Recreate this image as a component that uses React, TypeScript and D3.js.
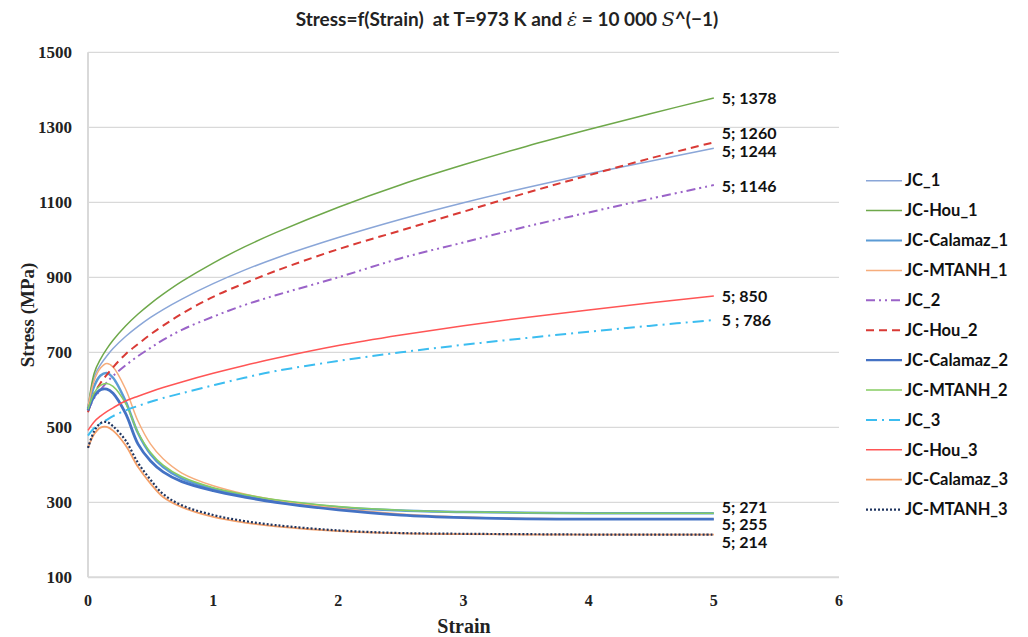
import React, { useEffect, useRef } from 'react';
import * as d3 from 'd3';

// strain sampling points (shared by every series)
const strain = [0, 0.05, 0.1, 0.15, 0.2, 0.3, 0.4, 0.5, 0.6, 0.75, 1, 1.25, 1.5, 2, 2.5, 3, 3.5, 4, 4.5, 5];

// stress values (MPa)
const jc1 = [550, 635, 667, 690, 710, 742, 769, 793, 814, 842, 883, 919, 951, 1006, 1055, 1099, 1139, 1176, 1210, 1244];
const jcHou1 = [550, 645, 682, 709, 732, 770, 802, 830, 855, 889, 938, 981, 1019, 1087, 1147, 1200, 1249, 1294, 1337, 1378];
const jcCalamaz1 = [550, 610, 638, 645, 632, 570, 484, 428, 394, 363, 336, 318, 304, 287, 278, 274, 272, 271, 271, 271];
const jcMtanh1 = [555, 625, 658, 670, 661, 602, 516, 455, 416, 378, 344, 322, 306, 284, 269, 261, 257, 256, 255, 255];
const jc2 = [545, 578, 600, 620, 637, 665, 690, 712, 733, 760, 795, 826, 852, 900, 951, 993, 1035, 1073, 1110, 1146];
const jcHou2 = [540, 590, 618, 640, 660, 695, 722, 748, 771, 803, 848, 884, 917, 975, 1025, 1075, 1125, 1172, 1218, 1260];
const jcCalamaz2 = [545, 583, 600, 602, 591, 537, 455, 410, 381, 355, 331, 314, 300, 280, 266, 259, 256, 255, 255, 255];
const jcMtanh2 = [548, 592, 612, 617, 609, 564, 486, 433, 399, 368, 339, 321, 307, 289, 279, 274, 272, 271, 271, 271];
const jc3 = [478, 498, 510, 520, 530, 545, 557, 568, 578, 591, 612, 632, 650, 677, 700, 720, 738, 755, 771, 786];
const jcHou3 = [492, 515, 530, 542, 552, 570, 583, 595, 606, 621, 644, 665, 684, 718, 746, 771, 793, 813, 832, 850];
const jcCalamaz3 = [445, 482, 499, 501, 491, 452, 394, 350, 314, 287, 261, 246, 236, 223, 217, 215, 214, 214, 214, 214];
const jcMtanh3 = [445, 490, 511, 514, 503, 465, 405, 360, 322, 292, 266, 250, 239, 225, 218, 216, 215, 214, 214, 214];

const seriesNames = [
  'JC_1', 'JC-Hou_1', 'JC-Calamaz_1', 'JC-MTANH_1',
  'JC_2', 'JC-Hou_2', 'JC-Calamaz_2', 'JC-MTANH_2',
  'JC_3', 'JC-Hou_3', 'JC-Calamaz_3', 'JC-MTANH_3',
];
const seriesValues = [
  jc1, jcHou1, jcCalamaz1, jcMtanh1,
  jc2, jcHou2, jcCalamaz2, jcMtanh2,
  jc3, jcHou3, jcCalamaz3, jcMtanh3,
];

// end-point labels: series index and text
const labelSeries = [1, 5, 0, 4, 9, 8, 7, 3, 11];
const labelTexts = ['5; 1378', '5; 1260', '5; 1244', '5; 1146', '5; 850', '5 ; 786', '5; 271', '5; 255', '5; 214'];

const yTicks = [100, 300, 500, 700, 900, 1100, 1300, 1500];
const xTicks = [0, 1, 2, 3, 4, 5, 6];

// line styles
const styles = [
  { color: '#8aa6d8', width: 1.5, dash: '' },
  { color: '#6ea84a', width: 1.5, dash: '' },
  { color: '#5b9bd5', width: 2.5, dash: '' },
  { color: '#f6ad7c', width: 1.5, dash: '' },
  { color: '#9a63c8', width: 2, dash: '9 4 2 4 2 4' },
  { color: '#d93a35', width: 2, dash: '8 5' },
  { color: '#4472c4', width: 2.8, dash: '' },
  { color: '#86cc62', width: 1.5, dash: '' },
  { color: '#3cbdf0', width: 2, dash: '11 5 2 5' },
  { color: '#ff5555', width: 1.5, dash: '' },
  { color: '#f4a06a', width: 1.8, dash: '' },
  { color: '#1f3560', width: 2.2, dash: '2 2' },
];
const labelDy = [0, -9, 3, 1, 0, 0, -6, 5, 8];

const W = 1028;
const H = 637;

export default function App() {
  const svgRef = useRef<SVGSVGElement>(null);

  useEffect(() => {
    if (!svgRef.current) return;
    const svg = d3.select(svgRef.current);
    svg.selectAll('*').remove();

    const x = d3.scaleLinear().domain([0, 6]).range([88, 839]);
    const y = d3.scaleLinear().domain([100, 1500]).range([577.3, 52.3]);

    svg.append('rect').attr('width', W).attr('height', H).attr('fill', '#fff');

    // gridlines
    svg.append('g')
      .selectAll('line')
      .data(yTicks.slice(1))
      .enter()
      .append('line')
      .attr('x1', x(0))
      .attr('x2', x(6))
      .attr('y1', d => y(d))
      .attr('y2', d => y(d))
      .attr('stroke', '#d9d9d9')
      .attr('stroke-width', 1.2);

    // axis lines
    svg.append('line')
      .attr('x1', x(0)).attr('x2', x(0))
      .attr('y1', y(1500)).attr('y2', y(100))
      .attr('stroke', '#d9d9d9').attr('stroke-width', 2);
    svg.append('line')
      .attr('x1', x(0)).attr('x2', x(6))
      .attr('y1', y(100)).attr('y2', y(100))
      .attr('stroke', '#d9d9d9').attr('stroke-width', 2);

    // tick labels
    svg.append('g')
      .selectAll('text')
      .data(yTicks)
      .enter()
      .append('text')
      .attr('x', 72)
      .attr('y', d => y(d))
      .attr('dy', '0.35em')
      .attr('text-anchor', 'end')
      .style('font-family', '"Liberation Serif", serif')
      .style('font-weight', 'bold')
      .style('font-size', '17px')
      .attr('fill', '#222')
      .text(d => d);

    svg.append('g')
      .selectAll('text')
      .data(xTicks)
      .enter()
      .append('text')
      .attr('x', d => x(d))
      .attr('y', 606)
      .attr('text-anchor', 'middle')
      .style('font-family', '"Liberation Serif", serif')
      .style('font-weight', 'bold')
      .style('font-size', '16px')
      .attr('fill', '#222')
      .text(d => d);

    // axis titles
    svg.append('text')
      .attr('x', 464)
      .attr('y', 633)
      .attr('text-anchor', 'middle')
      .style('font-family', '"Liberation Serif", serif')
      .style('font-weight', 'bold')
      .style('font-size', '20px')
      .attr('fill', '#222')
      .text('Strain');

    svg.append('text')
      .attr('transform', 'translate(34,315) rotate(-90)')
      .attr('text-anchor', 'middle')
      .style('font-family', '"Liberation Serif", serif')
      .style('font-weight', 'bold')
      .style('font-size', '19px')
      .attr('fill', '#222')
      .text('Stress (MPa)');

    // title
    const title = svg.append('text')
      .attr('x', 507)
      .attr('y', 26)
      .attr('text-anchor', 'middle')
      .style('font-family', 'Lato, "Open Sans", sans-serif')
      .style('font-weight', 'bold')
      .style('font-size', '19px')
      .attr('fill', '#222');
    title.append('tspan').attr('xml:space', 'preserve').text('Stress=f(Strain)  at T=973 K and ');
    title.append('tspan')
      .style('font-family', '"DejaVu Serif", serif')
      .style('font-style', 'italic')
      .style('font-weight', 'normal')
      .text('\u03b5\u0307');
    title.append('tspan').text(' = 10 000 ');
    title.append('tspan')
      .style('font-family', '"DejaVu Serif", serif')
      .style('font-style', 'italic')
      .style('font-weight', 'normal')
      .text('S');
    title.append('tspan').text('^(\u22121)');

    // series
    const line = d3.line<number>()
      .x((_, i) => x(strain[i]))
      .y(d => y(d))
      .curve(d3.curveCatmullRom.alpha(0.5));

    svg.append('g')
      .selectAll('path')
      .data(seriesValues)
      .enter()
      .append('path')
      .attr('d', d => line(d))
      .attr('fill', 'none')
      .attr('stroke', (_, i) => styles[i].color)
      .attr('stroke-width', (_, i) => styles[i].width)
      .attr('stroke-dasharray', (_, i) => styles[i].dash || null);

    // data labels
    svg.append('g')
      .selectAll('text')
      .data(labelTexts)
      .enter()
      .append('text')
      .attr('x', () => x(strain[strain.length - 1]) + 8)
      .attr('y', (_, i) => {
        const vals = seriesValues[labelSeries[i]];
        return y(vals[vals.length - 1]) + labelDy[i];
      })
      .attr('dy', '0.35em')
      .attr('xml:space', 'preserve')
      .style('font-family', 'Lato, "Open Sans", sans-serif')
      .style('font-weight', 'bold')
      .style('font-size', '16px')
      .attr('fill', '#111')
      .text(d => d);

    // legend
    const legend = svg.append('g');
    seriesNames.forEach((name, i) => {
      const ly = 180.7 + i * 29.9;
      legend.append('line')
        .attr('x1', 866).attr('x2', 902)
        .attr('y1', ly).attr('y2', ly)
        .attr('stroke', styles[i].color)
        .attr('stroke-width', Math.min(styles[i].width, 2.2))
        .attr('stroke-dasharray', styles[i].dash || null);
      legend.append('text')
        .attr('x', 905)
        .attr('y', ly)
        .attr('dy', '0.35em')
        .style('font-family', 'Lato, "Open Sans", sans-serif')
        .style('font-weight', 'bold')
        .style('font-size', '16.5px')
        .attr('fill', '#111')
        .text(name);
    });
  }, []);

  return (
    <svg
      ref={svgRef}
      width={W}
      height={H}
      style={{ position: 'absolute', left: 0, top: 0 }}
    />
  );
}
